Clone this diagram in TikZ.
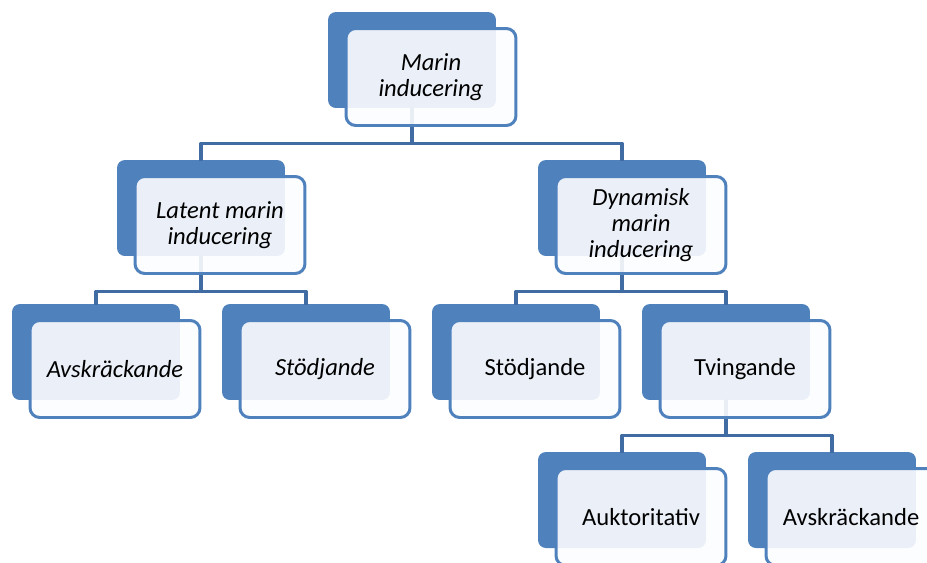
\documentclass[tikz,border=0pt]{standalone}
\usepackage{fontspec}
\setmainfont{Carlito}
\usetikzlibrary{%
  positioning,%
  calc%
}
\definecolor{cardblue}{RGB}{79,129,189}
\definecolor{linkblue}{RGB}{64,107,163}
\definecolor{cardfill}{RGB}{252,253,255}

\begin{document}
\begin{tikzpicture}[
    x=0.02cm,y=-0.02cm,
    line join=round,line cap=round,
    back/.style={rectangle,fill=cardblue,rounded corners=4.5pt,
        minimum width=3.36cm,minimum height=1.92cm,inner sep=0pt},
    front/.style={rectangle,draw=cardblue,line width=1.7pt,
        fill=cardfill,fill opacity=0.9,text opacity=1,
        rounded corners=5.5pt,minimum width=3.4cm,minimum height=1.94cm,
        align=center,font=\fontsize{14}{14.8}\selectfont},
    link/.style={draw=linkblue,line width=1.9pt,line cap=rect}
  ]
    \useasboundingbox (0,0) rectangle (927,562);
    \clip (0,0) rectangle (927,562);

    % dark cards behind
    \node [back] (top-b)  at (412,60)  {};
    \node [back] (lat-b)  at (201,208) {};
    \node [back] (dyn-b)  at (622,208) {};
    \node [back] (avs1-b) at (96,352)  {};
    \node [back] (std1-b) at (306,352) {};
    \node [back] (std2-b) at (516,352) {};
    \node [back] (tvi-b)  at (726,352) {};
    \node [back] (auk-b)  at (622,500) {};
    \node [back] (avs2-b) at (832,500) {};

    % connectors
    \draw [link] (top-b.south) -- ++(0,35) -| (lat-b.north);
    \draw [link] (top-b.south) -- ++(0,35) -| (dyn-b.north);
    \draw [link] (lat-b.south) -- ++(0,35) -| (avs1-b.north);
    \draw [link] (lat-b.south) -- ++(0,35) -| (std1-b.north);
    \draw [link] (dyn-b.south) -- ++(0,35) -| (std2-b.north);
    \draw [link] (dyn-b.south) -- ++(0,35) -| (tvi-b.north);
    \draw [link] (tvi-b.south) -- ++(0,35) -| (auk-b.north);
    \draw [link] (tvi-b.south) -- ++(0,35) -| (avs2-b.north);

    % light cards in front
    \node [front] (top)  at ([shift={(19,17)}]top-b)  {\itshape Marin\\\itshape inducering};
    \node [front] (lat)  at ([shift={(19,17)}]lat-b)  {\itshape Latent marin\\\itshape inducering};
    \node [front] (dyn)  at ([shift={(19,17)}]dyn-b)  {\itshape Dynamisk\\\itshape marin\\\itshape inducering};
    \node [front] (avs1) at ([shift={(19,17)}]avs1-b) {\itshape Avskräckande};
    \node [front] (std1) at ([shift={(19,17)}]std1-b) {\itshape Stödjande};
    \node [front] (std2) at ([shift={(19,17)}]std2-b) {Stödjande};
    \node [front] (tvi)  at ([shift={(19,17)}]tvi-b)  {Tvingande};
    \node [front] (auk)  at ([shift={(19,17)}]auk-b)  {Auktoritativ};
    \node [front] (avs2) at ([shift={(19,17)}]avs2-b) {Avskräckande};
\end{tikzpicture}
\end{document}
